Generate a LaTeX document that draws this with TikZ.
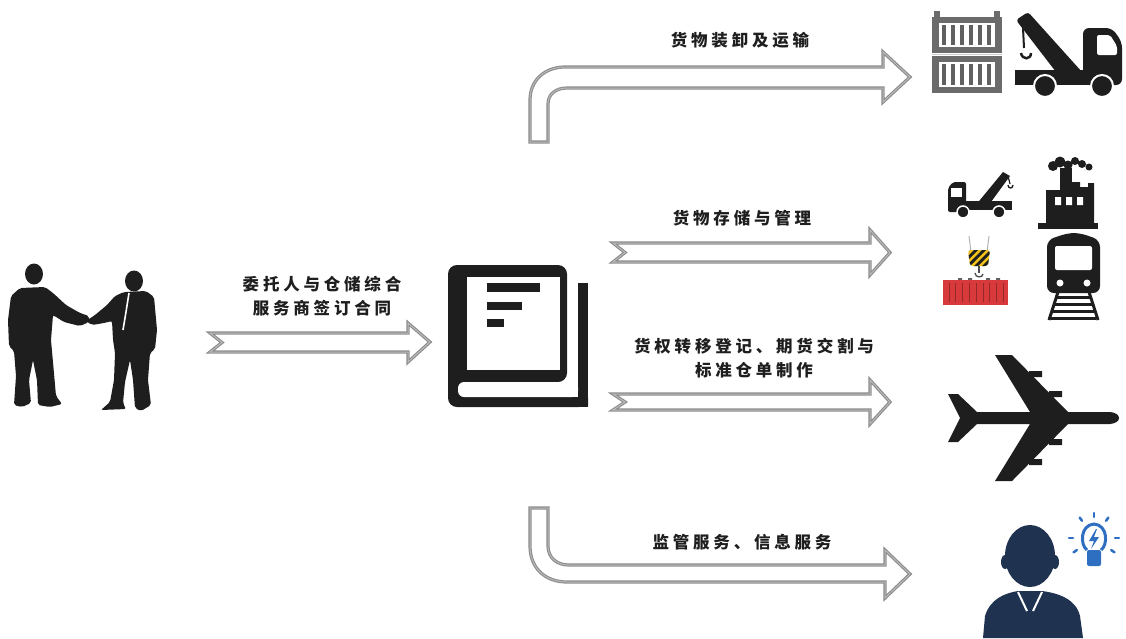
\documentclass[tikz,border=0pt]{standalone}
\usepackage{fontspec}
\usetikzlibrary{calc}
\newfontfamily\cjk{Noto Sans CJK SC}[LetterSpace=23]
\definecolor{ink}{HTML}{1E1E1E}
\definecolor{boxgray}{HTML}{6B6B6B}
\definecolor{navy}{HTML}{1F3350}
\definecolor{bulbblue}{HTML}{2F6FC2}
\definecolor{crate}{HTML}{D8393B}
\definecolor{hookyel}{HTML}{F2C318}
\begin{document}
\begin{tikzpicture}[x=1pt,y=-1pt,
  blockarrow/.style={draw=gray!90, double=gray!55, double distance=1pt, line width=1.1pt, fill=white, line join=miter},
  lbl/.style={font=\cjk\fontsize{16.5}{24}\selectfont\bfseries, text=ink, align=center, inner sep=0pt},
  sil/.style={fill=ink, draw=none},
]
\useasboundingbox (0,0) rectangle (1126,638);

% ---------- block arrows ----------
% contract arrow
\path[blockarrow] (210,333) -- (408,333) -- (408,323) -- (430,342) -- (408,362) -- (408,352) -- (210,352) -- (222,342.5) -- cycle;
% storage arrow
\path[blockarrow] (613,243) -- (870,243) -- (870,230) -- (890,252.5) -- (870,275) -- (870,262) -- (613,262) -- (625,252.5) -- cycle;
% title transfer arrow
\path[blockarrow] (613,394) -- (870,394) -- (870,380) -- (890,402) -- (870,424) -- (870,410) -- (613,410) -- (625,402) -- cycle;
% loading arrow (bent upward tail)
\path[blockarrow] (530,142) -- (530,100) .. controls (530,80) and (545,67) .. (565,67) -- (883,67) -- (883,52) -- (910,77) -- (883,102) -- (883,88) -- (567,88) .. controls (556,88) and (548,94) .. (548,104) -- (548,142) -- cycle;
% supervision arrow (bent downward tail)
\path[blockarrow] (530,508) -- (530,546) .. controls (530,568) and (545,582) .. (567,582) -- (885,582) -- (885,598) -- (910,574) -- (885,550) -- (885,565) -- (569,565) .. controls (557,565) and (548,558) .. (548,546) -- (548,508) -- cycle;

% ---------- labels ----------
\node[lbl] (contract) at (322,296) {委托人与仓储综合\\服务商签订合同};
\node[lbl] (loading) at (740,40) {货物装卸及运输};
\node[lbl] (storage) at (742,218) {货物存储与管理};
\node[lbl] (transfer) at (754,358) {货权转移登记、期货交割与\\标准仓单制作};
\node[lbl] (supervise) at (742,542) {监管服务、信息服务};

% ---------- handshake ----------
\fill[ink] (34,274) ellipse (9 and 10.5);
\fill[ink] (134,281) ellipse (9 and 10.5);
\path[sil, rounded corners=2pt] (20,288) -- (45,287) -- (53,293) -- (66,305) -- (80,313) -- (89,316) -- (89,322) -- (80,326) -- (64,322) -- (53,315) -- (51,340) -- (53,362) -- (56,396) -- (62,404) -- (50,407) -- (38,405) -- (37,380) -- (33,360) -- (29,380) -- (31,403) -- (22,407) -- (14,405) -- (16,376) -- (14,351) -- (9,346) -- (8,320) -- (11,296) -- cycle;
\path[sil, rounded corners=2pt] (124,292) -- (146,291) -- (154,297) -- (157,330) -- (155,349) -- (150,353) -- (148,380) -- (151,405) -- (141,411) -- (135,408) -- (133,380) -- (130,360) -- (125,382) -- (123,403) -- (126,409) -- (101,410) -- (110,402) -- (114,380) -- (115,353) -- (113,340) -- (112,321) -- (104,323) -- (92,325) -- (86,321) -- (95,315) -- (107,305) -- (115,296) -- cycle;
\draw[white, line width=1.6pt] (129,293) -- (126,312) -- (123,330);

% ---------- contract book ----------
\fill[ink, rounded corners=9pt] (448,265) -- (567,265) -- (567,382) -- (460,382) -- (460,397) -- (588,397) -- (588,407) -- (448,407) -- cycle;
\fill[ink] (578,283) rectangle (588,407);
\fill[white] (467,277) rectangle (560,370);
\fill[white, rounded corners=6pt] (458,382) rectangle (578,397);
\fill[ink] (487,283) rectangle (540,292);
\fill[ink] (487,302) rectangle (522,310);
\fill[ink] (487,319) rectangle (504,327);
\node[inner sep=0pt, minimum width=140pt, minimum height=142pt] (book) at (518,336) {};

% ---------- containers ----------
\foreach \t/\b in {17/53, 56/93}{
  \fill[boxgray] (932,\t) rectangle (1002,\b);
  \fill[white] (939,\t+6) rectangle (995,\b-6);
  \foreach \k in {0,...,5}{
    \fill[boxgray!90!black] (942+\k*9,\t+8) rectangle (946+\k*9,\b-8);
  }
}
\fill[boxgray] (934,11) rectangle (940,18);
\fill[boxgray] (994,11) rectangle (1000,18);
\draw[gray!40, line width=1pt] (932,54.5) -- (1002,54.5);

% ---------- tow truck (large) ----------
\fill[ink, rounded corners=3pt] (1016,20) -- (1028,12) -- (1082,72) -- (1056,72) -- cycle;
\draw[ink, line width=2pt] (1023,28) -- (1024,48);
\draw[ink, line width=2.5pt] (1021,53) .. controls (1022,60) and (1031,60) .. (1031,53);
\fill[ink] (1015,70) rectangle (1088,85);
\fill[ink, rounded corners=6pt] (1083,85) -- (1083,28) -- (1112,28) -- (1122,42) -- (1122,85) -- cycle;
\fill[white, rounded corners=2pt] (1097,35) -- (1110,35) -- (1117,46) -- (1117,55) -- (1097,55) -- cycle;
\fill[ink, draw=white, line width=2pt] (1045,86) circle (11);
\fill[ink, draw=white, line width=2pt] (1102,86) circle (11);

% ---------- tow truck (small) ----------
\fill[ink, rounded corners=2pt] (948,212) -- (948,188) -- (953,182) -- (966,182) -- (966,212) -- cycle;
\fill[white] (951,188) rectangle (962,197);
\fill[ink] (965,201) rectangle (1012,210);
\fill[ink] (975,206) -- (1003,172) -- (1010,176) -- (988,206) -- cycle;
\draw[ink, line width=1.2pt] (1008,176) -- (1010,184);
\draw[ink, line width=1.3pt] (1008,185) .. controls (1008,189) and (1013,189) .. (1013,185);
\fill[ink, draw=white, line width=1.5pt] (963,212) circle (6);
\fill[ink, draw=white, line width=1.5pt] (999,212) circle (6);

% ---------- factory ----------
\fill[ink] (1053,166) circle (5) (1060,162) circle (5.5) (1068,165) circle (4.5) (1075,161) circle (4) (1082,164) circle (4) (1089,167) circle (3.5);
\fill[ink] (1060,168) rectangle (1072,190);
\fill[ink] (1046,190) -- (1072,190) -- (1072,182) -- (1080,182) -- (1080,187) -- (1088,187) -- (1088,183) -- (1094,183) -- (1094,224) -- (1046,224) -- cycle;
\fill[ink] (1038,223) rectangle (1098,229);
\fill[white] (1055,197) rectangle (1061,205) (1066,197) rectangle (1072,205) (1077,197) rectangle (1083,205);

% ---------- hook and container ----------
\draw[gray!60, line width=1pt] (969,236) -- (971,252) (989,236) -- (987,252);
\begin{scope}
\clip[rounded corners=3pt] (968,250) -- (990,250) -- (988,266) -- (970,266) -- cycle;
\fill[hookyel] (966,248) rectangle (992,268);
\foreach \s in {-20,-12,...,30}{
  \fill[ink] (960+\s,268) -- (964+\s,268) -- (984+\s,248) -- (980+\s,248) -- cycle;
}
\end{scope}
\draw[ink!80, line width=1.5pt] (979,266) -- (979,273);
\draw[ink!80, line width=1.3pt] (975,273) .. controls (975,278) and (983,278) .. (983,274);
\fill[ink!70] (958,278) rectangle (962,281) (968,278) rectangle (972,281) (986,278) rectangle (990,281) (996,278) rectangle (1000,281);
\fill[crate] (943,280) rectangle (1008,305);
\foreach \k in {0,...,8}{ \draw[crate!70!black, line width=0.8pt] (949+\k*6.8,283) -- (949+\k*6.8,302); }

% ---------- train ----------
\fill[ink, rounded corners=7pt] (1047,293) -- (1047,240) -- (1068,233) -- (1080,233) -- (1100,240) -- (1100,293) -- cycle;
\fill[white, rounded corners=2pt] (1055,246) rectangle (1092,270);
\fill[white] (1060,283) circle (3.5) (1087,283) circle (3.5);
\draw[ink, line width=3pt] (1058,292) -- (1049,320) (1089,292) -- (1098,320);
\foreach \y/\w in {297/33, 304/37, 311/41, 318/45}{
  \draw[ink, line width=3pt] (1073.5-\w/2,\y) -- (1073.5+\w/2,\y);
}

% ---------- airplane ----------
\path[sil] (977,412) -- (1030,412) -- (995,355) -- (1012,355) -- (1068,412) -- (1110,412) .. controls (1122,413) and (1122,423) .. (1110,424) -- (1068,424) -- (1012,481) -- (995,481) -- (1030,424) -- (977,424) -- (958,442) -- (948,442) -- (960,418) -- (948,394) -- (958,394) -- cycle;
\fill[ink] (1029,371) rectangle (1042,377) (1049,391) rectangle (1062,397);
\fill[ink] (1029,459) rectangle (1042,465) (1049,439) rectangle (1062,445);

% ---------- consultant with bulb ----------
\fill[navy] (1030,556) ellipse (25 and 31);
\fill[navy] (1005,562) ellipse (4 and 7) (1055,562) ellipse (4 and 7);
\fill[navy] (983,638) -- (985,616) .. controls (990,599) and (1005,593) .. (1018,591) -- (1042,591) .. controls (1058,593) and (1076,599) .. (1080,616) -- (1083,638) -- cycle;
\draw[white, line width=2pt] (1018,592) -- (1027,611) (1042,592) -- (1033,611);
\draw[navy, line width=4pt] (1030,604) -- (1030,628);
\draw[bulbblue, line width=3pt] (1087,550) .. controls (1080,545) and (1080,525) .. (1094,524) .. controls (1108,525) and (1108,545) .. (1101,550);
\fill[bulbblue, rounded corners=2pt] (1087,550) rectangle (1101,566);
\fill[bulbblue] (1096,529) -- (1089,541) -- (1094,541) -- (1091,549) -- (1099,537) -- (1094,537) -- (1097,529) -- cycle;
\foreach \a in {180,235,270,305,0,145,35}{
  \draw[bulbblue, line width=2.5pt, line cap=round] ($(1094,538)+(\a:21)$) -- ($(1094,538)+(\a:25)$);
}
\end{tikzpicture}
\end{document}
